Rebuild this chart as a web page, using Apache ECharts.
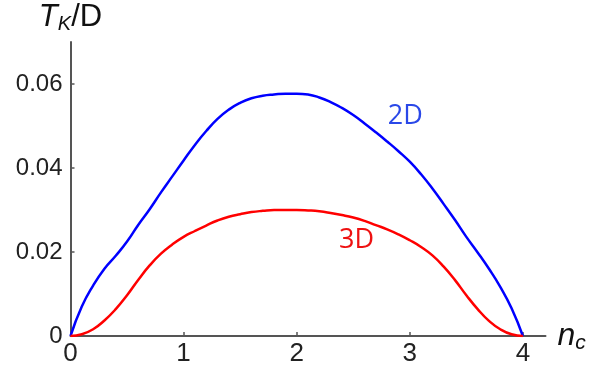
<!DOCTYPE html>
<html>
<head>
<meta charset="utf-8">
<script src="https://cdn.jsdelivr.net/npm/echarts@6/dist/echarts.min.js"></script>
<style>
  html, body { margin: 0; padding: 0; background: #fff; }
  #chart { width: 614px; height: 371px; }
</style>
</head>
<body>
<div id="chart"></div>
<script>
// values, every 0.1 in n_c
const nc = [0, 0.1, 0.2, 0.3, 0.4, 0.5, 0.6, 0.7, 0.8, 0.9, 1.0, 1.1, 1.2, 1.3, 1.4, 1.5, 1.6, 1.7, 1.8, 1.9, 2.0,
  2.1, 2.2, 2.3, 2.4, 2.5, 2.6, 2.7, 2.8, 2.9, 3.0, 3.1, 3.2, 3.3, 3.4, 3.5, 3.6, 3.7, 3.8, 3.9, 4.0]
const tk2D = [0, 0.0070, 0.0120, 0.0160, 0.0191, 0.0225, 0.0265, 0.0302, 0.0342, 0.0380, 0.0418,
  0.0455, 0.0488, 0.0517, 0.0539, 0.0555, 0.0566, 0.0572, 0.0575, 0.0577, 0.0577,
  0.0575, 0.0568, 0.0557, 0.0543, 0.0526, 0.0506, 0.0485, 0.0463, 0.0440, 0.0415,
  0.0385, 0.0351, 0.0314, 0.0276, 0.0236, 0.0199, 0.0160, 0.0117, 0.0066, 0]
const tk3D = [0, 0.0004, 0.0016, 0.0037, 0.0064, 0.0097, 0.0134, 0.0168, 0.0196, 0.0218, 0.0236,
  0.0250, 0.0263, 0.0275, 0.0284, 0.0290, 0.0295, 0.0298, 0.0300, 0.0300, 0.0300,
  0.0299, 0.0297, 0.0293, 0.0288, 0.0282, 0.0274, 0.0264, 0.0254, 0.0242, 0.0228,
  0.0212, 0.0192, 0.0165, 0.0133, 0.0097, 0.0064, 0.0036, 0.0016, 0.0004, 0]

const xTicks = [0, 1, 2, 3, 4]
const yTicks = [0, 0.02, 0.04, 0.06]

const chart = echarts.init(document.getElementById('chart'))

const axisColor = '#555'
const textFont = 'Liberation Sans'

const option = {
  animation: false,
  grid: { left: 70.5, right: 68.5, top: 42, bottom: 35 },
  xAxis: {
    type: 'value',
    min: 0,
    max: 4.2,
    name: '{i|n}{s|c}',
    nameLocation: 'end',
    nameGap: 12,
    nameTextStyle: {
      rich: {
        i: { fontFamily: textFont, fontStyle: 'italic', fontSize: 32, color: '#111' },
        s: { fontFamily: textFont, fontStyle: 'italic', fontSize: 21, color: '#111', padding: [14, 0, 0, 0] }
      }
    },
    splitLine: { show: false },
    axisLine: { lineStyle: { color: axisColor, width: 2 } },
    axisTick: { inside: true, length: 4, customValues: xTicks, lineStyle: { color: axisColor, width: 1.5 } },
    axisLabel: {
      customValues: xTicks,
      fontFamily: textFont,
      fontSize: 26,
      color: '#222',
      margin: 5
    }
  },
  yAxis: {
    type: 'value',
    min: 0,
    max: 0.07,
    name: '{i|T}{s|K}{n|/D}',
    nameLocation: 'end',
    nameGap: 8,
    nameTextStyle: {
      rich: {
        i: { fontFamily: textFont, fontStyle: 'italic', fontSize: 31, color: '#111' },
        s: { fontFamily: textFont, fontStyle: 'italic', fontSize: 20, color: '#111', padding: [14, 0, 0, 0] },
        n: { fontFamily: textFont, fontSize: 31, color: '#111' }
      }
    },
    splitLine: { show: false },
    axisLine: { show: true, lineStyle: { color: axisColor, width: 2 } },
    axisTick: { show: true, inside: true, length: 4, customValues: yTicks, lineStyle: { color: axisColor, width: 1.5 } },
    axisLabel: {
      customValues: yTicks,
      fontFamily: textFont,
      fontSize: 24,
      color: '#222',
      margin: 8,
      formatter: v => (v === 0 ? '0' : v.toFixed(2))
    }
  },
  series: [
    {
      name: '2D',
      type: 'line',
      data: nc.map((x, i) => [x, tk2D[i]]),
      smooth: 0.5,
      showSymbol: false,
      lineStyle: { color: '#0000ff', width: 2.5 },
      markPoint: {
        symbol: 'circle',
        symbolSize: 0,
        data: [{ coord: [2.96, 0.0524], value: '2D' }],
        label: { show: true, position: 'inside', formatter: '2D', color: '#2a48e8', fontFamily: 'Open Sans', fontSize: 27 }
      }
    },
    {
      name: '3D',
      type: 'line',
      data: nc.map((x, i) => [x, tk3D[i]]),
      smooth: 0.5,
      showSymbol: false,
      lineStyle: { color: '#ff0000', width: 2.5 },
      markPoint: {
        symbol: 'circle',
        symbolSize: 0,
        data: [{ coord: [2.53, 0.0229], value: '3D' }],
        label: { show: true, position: 'inside', formatter: '3D', color: '#ee1111', fontFamily: 'Open Sans', fontSize: 27 }
      }
    }
  ]
}

chart.setOption(option)

window.addEventListener('resize', () => chart.resize())
</script>
</body>
</html>
